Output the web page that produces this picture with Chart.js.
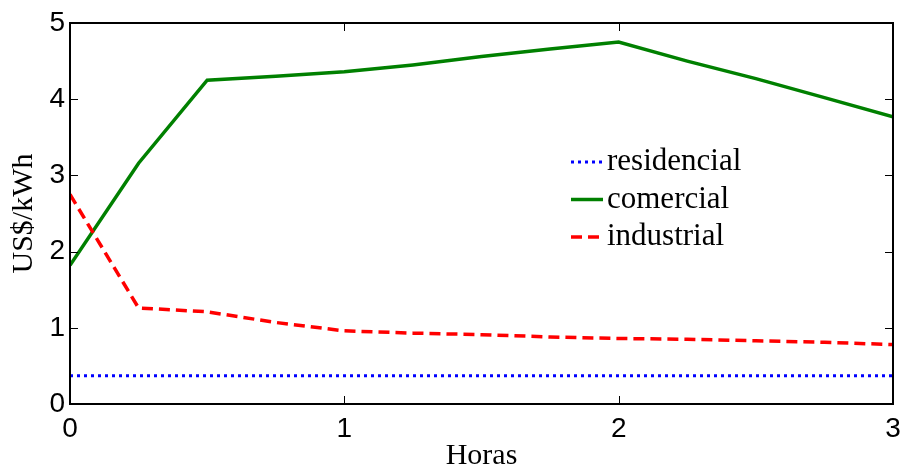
<!DOCTYPE html>
<html>
<head>
<meta charset="utf-8">
<script src="https://cdn.jsdelivr.net/npm/chart.js@4.4.1/dist/chart.umd.min.js"></script>
<style>
  html, body { margin: 0; padding: 0; background: #fff; }
  #wrap { width: 903px; height: 468px; }
</style>
</head>
<body>
<div id="wrap"><canvas id="tarifas"></canvas></div>
<script>
// data
const horas = [0, 0.25, 0.5, 0.75, 1, 1.25, 1.5, 1.75, 2, 2.25, 2.5, 2.75, 3]
const residencial = [0.37, 0.37, 0.37, 0.37, 0.37, 0.37, 0.37, 0.37, 0.37, 0.37, 0.37, 0.37, 0.37]
const comercial = [1.82, 3.16, 4.25, 4.30, 4.36, 4.45, 4.56, 4.66, 4.75, 4.50, 4.27, 4.02, 3.77]
const industrial = [2.75, 1.26, 1.21, 1.07, 0.96, 0.93, 0.91, 0.88, 0.86, 0.85, 0.83, 0.81, 0.78]
const xTicks = [0, 1, 2, 3]
const yTicks = [0, 1, 2, 3, 4, 5]

const pts = (vals) => horas.map((h, i) => ({ x: h, y: vals[i] }))

// box around the plot + inward ticks, matlab style
const boxPlugin = {
  id: "box",
  afterDraw(chart) {
    const { ctx, chartArea: a, scales } = chart
    ctx.save()
    ctx.strokeStyle = "#000"
    ctx.lineWidth = 1
    xTicks.forEach((v) => {
      const px = Math.round(scales.x.getPixelForValue(v)) + 0.5
      ctx.beginPath()
      ctx.moveTo(px, a.bottom); ctx.lineTo(px, a.bottom - 8)
      ctx.moveTo(px, a.top); ctx.lineTo(px, a.top + 8)
      ctx.stroke()
    })
    yTicks.forEach((v) => {
      const py = Math.round(scales.y.getPixelForValue(v)) + 0.5
      ctx.beginPath()
      ctx.moveTo(a.left, py); ctx.lineTo(a.left + 8, py)
      ctx.moveTo(a.right, py); ctx.lineTo(a.right - 8, py)
      ctx.stroke()
    })
    ctx.lineWidth = 2
    ctx.strokeRect(a.left, a.top, a.right - a.left, a.bottom - a.top)
    ctx.restore()
  },
}

// legend inside the plot, no frame
const legendPlugin = {
  id: "innerLegend",
  afterDraw(chart) {
    const { ctx } = chart
    ctx.save()
    ctx.font = "31px 'Liberation Serif'"
    ctx.textBaseline = "middle"
    ctx.fillStyle = "#000"
    chart.data.datasets.forEach((ds, i) => {
      const y = 162 + i * 37.5
      ctx.strokeStyle = ds.borderColor
      ctx.lineWidth = ds.borderWidth
      ctx.setLineDash(ds.borderDash || [])
      ctx.beginPath()
      ctx.moveTo(571, y); ctx.lineTo(603, y)
      ctx.stroke()
      ctx.setLineDash([])
      ctx.fillText(ds.label, 607, y)
    })
    ctx.restore()
  },
}

document.addEventListener("DOMContentLoaded", () => {
  const ctx = document.getElementById("tarifas").getContext("2d")
  new Chart(ctx, {
    type: "line",
    data: {
      datasets: [
        { label: "residencial", data: pts(residencial), borderColor: "#0000ff", borderWidth: 3, borderDash: [3, 4], order: 2 },
        { label: "comercial", data: pts(comercial), borderColor: "#008000", borderWidth: 3.5, order: 1 },
        { label: "industrial", data: pts(industrial), borderColor: "#ff0000", borderWidth: 3.5, borderDash: [11, 6], order: 0 },
      ],
    },
    options: {
      responsive: true,
      maintainAspectRatio: false,
      animation: false,
      layout: { padding: { top: 23, right: 10, left: 0, bottom: 0 } },
      elements: { point: { radius: 0 }, line: { tension: 0 } },
      plugins: { legend: { display: false }, tooltip: { enabled: false } },
      scales: {
        x: {
          type: "linear",
          min: 0,
          max: 3,
          afterFit: (s) => { s.height = 64; s.paddingRight = 0; s.paddingLeft = 0 },
          afterBuildTicks: (s) => { s.ticks = xTicks.map((v) => ({ value: v })) },
          grid: { display: false, drawTicks: false },
          border: { display: false },
          ticks: { color: "#000", padding: 8, font: { family: "'Liberation Sans'", size: 28 } },
          title: { display: true, text: "Horas", color: "#000", padding: { top: 0, bottom: 0 }, font: { family: "'Liberation Serif'", size: 30, lineHeight: 0.8 } },
        },
        y: {
          min: 0,
          max: 5,
          afterFit: (s) => { s.width = 70 },
          afterBuildTicks: (s) => { s.ticks = yTicks.map((v) => ({ value: v })) },
          grid: { display: false, drawTicks: false },
          border: { display: false },
          ticks: { color: "#000", padding: 5, font: { family: "'Liberation Sans'", size: 28 } },
          title: { display: true, text: "US$/kWh", color: "#000", padding: { top: 12, bottom: 0 }, font: { family: "'Liberation Serif'", size: 30, lineHeight: 0.8 } },
        },
      },
    },
    plugins: [boxPlugin, legendPlugin],
  })
})
</script>
</body>
</html>
